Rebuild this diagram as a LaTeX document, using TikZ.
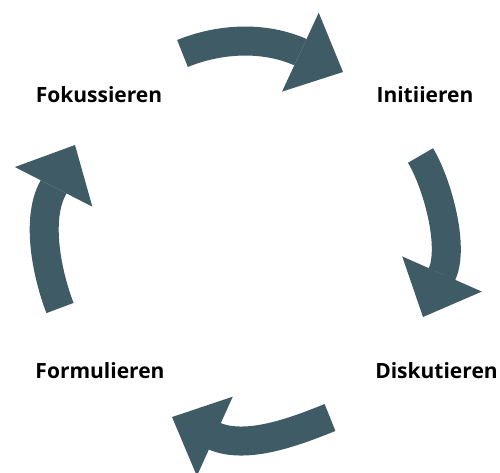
\documentclass[tikz,border=0pt]{standalone}
\usepackage{fontspec}
\setmainfont{Open Sans}
\usepackage{xcolor}
\usetikzlibrary{arrows.meta,positioning,calc}
\definecolor{slate}{RGB}{63,91,102}

\begin{document}
\begin{tikzpicture}[x=1pt,y=-1pt,
    cyclearrow/.style={draw=slate,line width=29pt,
      -{Triangle[length=47pt,width=87pt,line width=0pt,fill=slate]}},
    steplabel/.style={anchor=base,inner sep=0pt,
      font=\fontsize{21pt}{25pt}\selectfont\bfseries}]
\useasboundingbox (0,0) rectangle (500,473);

% Labels
\node[steplabel] (fok) at (99,103) {Fokussieren};
\node[steplabel] (ini) at (425,103) {Initiieren};
\node[steplabel] (dis) at (436.5,378) {Diskutieren};
\node[steplabel] (for) at (100,378) {Formulieren};

% Arrow ends
\coordinate (topTail) at (182.5,53.5);
\coordinate (topBase) at (300,52);
\coordinate (topTip) at (343,72);
\coordinate (rightTail) at (420.5,155.5);
\coordinate (rightBase) at (442,274);
\coordinate (rightTip) at (423,317);
\coordinate (botTail) at (330,417.5);
\coordinate (botBase) at (214,436);
\coordinate (botTip) at (172,417);
\coordinate (leftTail) at (60,308);
\coordinate (leftBase) at (53,188);
\coordinate (leftTip) at (75,145);

% Cycle arrows
\draw[cyclearrow] (topTail) .. controls (219.5,38.4) and (263.6,36) .. (topBase) -- (topTip);
\draw[cyclearrow] (rightTail) .. controls (437.5,183.8) and (454.5,246.8) .. (rightBase) -- (rightTip);
\draw[cyclearrow] (botTail) .. controls (296.6,430.9) and (247,450.3) .. (botBase) -- (botTip);
\draw[cyclearrow] (leftTail) .. controls (47.1,274.4) and (35.7,219.6) .. (leftBase) -- (leftTip);
\end{tikzpicture}
\end{document}
